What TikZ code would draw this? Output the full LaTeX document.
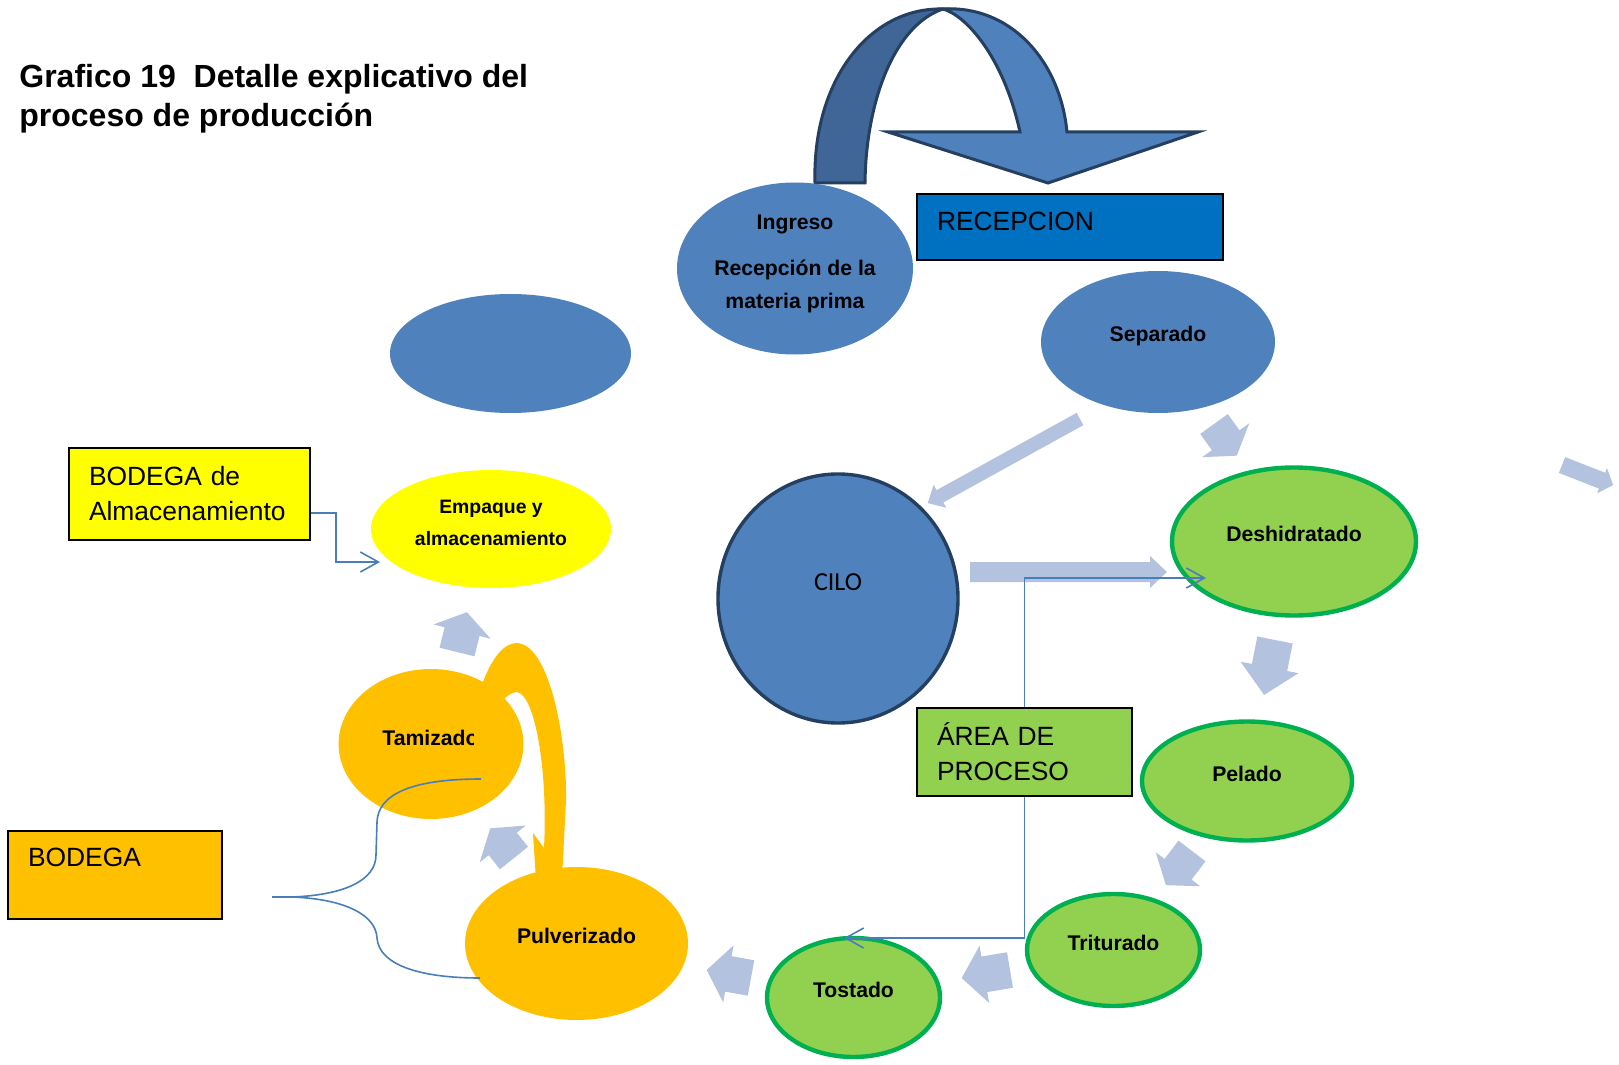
\documentclass[tikz,border=0pt]{standalone}
\usepackage{fontspec}
\setmainfont{Liberation Sans}
\newfontfamily\cilofont{Carlito}
\usepackage{tikz}
\usetikzlibrary{arrows.meta}
\usetikzlibrary{positioning}
\usetikzlibrary{shapes.geometric}

\definecolor{shapeblue}{HTML}{4F81BD}
\definecolor{backblue}{HTML}{3F6696}
\definecolor{edgeblue}{HTML}{243F60}
\definecolor{recblue}{HTML}{0070C0}
\definecolor{leafgreen}{HTML}{92D050}
\definecolor{rimgreen}{HTML}{00B050}
\definecolor{amber}{HTML}{FFC000}
\definecolor{lemon}{HTML}{FFFF00}
\definecolor{flowgrey}{HTML}{B3C2DE}
\definecolor{linkblue}{HTML}{4A7EBB}

% block arrow: tail x, tail y, angle, length, shaft half, head half, head length
\newcommand{\flowarrow}[7]{%
  \fill[flowgrey,shift={(#1,#2)},rotate=#3] (0,-#5) -- ({#4-#7},-#5) -- ({#4-#7},-#6) -- (#4,0)
    -- ({#4-#7},#6) -- ({#4-#7},#5) -- (0,#5) -- cycle;}

\begin{document}
\begin{tikzpicture}[x=0.5pt,y=-0.5pt,
    stage/.style={ellipse,inner sep=0pt,text height=8pt,text depth=8pt,font=\bfseries\fontsize{10.6}{12}\selectfont},
    bluestage/.style={stage,fill=shapeblue},
    greenstage/.style={stage,fill=leafgreen,draw=rimgreen,line width=2.2pt},
    amberstage/.style={stage,fill=amber},
    areabox/.style={draw=black,line width=0.6pt,inner xsep=10pt,inner ysep=0pt,align=left,font=\fontsize{13.2}{17.5}\selectfont},
    link/.style={draw=linkblue,line width=0.8pt},
    linkarrow/.style={link,-{Straight Barb[length=9pt,width=10pt]}}]
  \useasboundingbox (0,0) rectangle (1619,1065);

  % title
  \node[anchor=base west,align=left,inner sep=0pt,font=\bfseries\fontsize{16}{20}\selectfont] (title) at (19,127)
    {Grafico 19\ \ Detalle explicativo del\\proceso de producción};

  % u-turn arrow over the reception
  \filldraw[fill=backblue,draw=edgeblue,line width=1.5pt] (815,183) .. controls (812,80) and (870,7) .. (943,9)
    .. controls (895,25) and (866,100) .. (865,183) -- cycle;
  \filldraw[fill=shapeblue,draw=edgeblue,line width=1.5pt] (943,9) .. controls (1010,5) and (1060,60) .. (1067,132)
    -- (1198,132) -- (1048,183) -- (888,132) -- (1020,132) .. controls (1003,55) and (965,15) .. (943,9) -- cycle;

  % stages
  \node[bluestage,minimum width=118pt,minimum height=86pt] (ingreso) at (795,268.5) {};
  \node[anchor=base,align=center,inner sep=0pt,font=\bfseries\fontsize{10.6}{16.5}\selectfont] (ingresotext) at (795,308)
    {Ingreso\\[6.5pt]Recepción de la\\materia prima};
  \node[bluestage,minimum width=117pt,minimum height=71pt] (separado) at (1158,342) {Separado};
  \node[bluestage,minimum width=120.5pt,minimum height=59.5pt] (spare) at (510.5,353.5) {};
  \node[stage,fill=lemon,minimum width=120pt,minimum height=59pt] (empaque) at (491,529) {};
  \node[anchor=base,align=center,inner sep=0pt,font=\bfseries\fontsize{9.7}{16}\selectfont] (empaquetext) at (491,545)
    {Empaque y\\almacenamiento};
  \node[bluestage,draw=edgeblue,line width=1.7pt,minimum width=120pt,minimum height=124.5pt,
    font=\cilofont\fontsize{13}{15}\selectfont,text height=4pt,text depth=12.5pt] (cilo) at (838,598.5) {CILO};
  \node[greenstage,minimum width=122pt,minimum height=74pt] (deshidratado) at (1294,541.5) {Deshidratado};
  \node[greenstage,minimum width=105pt,minimum height=59.5pt] (pelado) at (1247,781) {Pelado};
  \node[greenstage,minimum width=86.5pt,minimum height=56pt] (triturado) at (1113.5,950) {Triturado};
  \node[greenstage,minimum width=86.5pt,minimum height=59.5pt] (tostado) at (853.5,997.5) {Tostado};
  \node[amberstage,minimum width=111.5pt,minimum height=76.5pt] (pulverizado) at (576.5,943.5) {Pulverizado};
  \node[amberstage,minimum width=92.4pt,minimum height=75pt] (tamizado) at (431,744) {};
  \begin{scope}
    \clip (330,700) rectangle (473,790);
    \node[anchor=base west,inner sep=0pt,font=\bfseries\fontsize{10.6}{12}\selectfont] (tamizadotext) at (382,745) {Tamizado};
  \end{scope}

  % orange return arrow
  \fill[amber] (480,690) .. controls (492,655) and (505,643) .. (517,643) .. controls (550,645) and (567,740) .. (566,800)
    -- (562,880) -- (536,880) -- (533,833) -- (544,848) .. controls (548,770) and (535,695) .. (517,692)
    .. controls (512,692) and (507,696) .. (503,700) -- cycle;

  % flow arrows
  \flowarrow{1080}{419}{-151.1}{174}{7}{13}{14}
  \flowarrow{970}{572}{0}{197}{10}{16}{17}
  \flowarrow{1214}{424}{-54.3}{39}{17}{29}{19}
  \flowarrow{1275}{640}{-101.3}{56}{18}{29.5}{28}
  \flowarrow{1192}{851}{-127.4}{43}{17}{28}{20}
  \flowarrow{1010}{970}{-170.5}{49}{18}{29}{23}
  \flowarrow{751}{978}{169.7}{45}{18}{29}{22}
  \flowarrow{514}{858}{128.7}{38}{18}{29.5}{20}
  \flowarrow{457}{652}{76}{41}{18}{29.5}{20}
  \flowarrow{1562}{465}{-21.4}{55}{8.5}{13.5}{12}

  % area boxes
  \node[areabox,fill=recblue,minimum width=153pt,minimum height=33pt,text width=133pt,
    text height=10pt,text depth=6pt] (recepcion) at (1070,227) {RECEPCION};
  \node[areabox,fill=lemon,minimum width=120.5pt,minimum height=46pt,text width=100.5pt] (bodalm) at (189.5,494)
    {BODEGA de\\Almacenamiento};
  \node[areabox,fill=leafgreen,minimum width=107.5pt,minimum height=44pt,text width=87.5pt] (area) at (1024.5,752)
    {ÁREA DE\\PROCESO};
  \node[areabox,fill=amber,minimum width=107pt,minimum height=44pt,text width=87pt,
    text height=10pt,text depth=19pt] (bodega) at (115,875) {BODEGA};

  % thin connectors
  \coordinate (empin) at (380,562);
  \coordinate (deshin) at (1206,578);
  \coordinate (tostin) at (844,938);
  \coordinate (bracetip) at (272,897);
  \coordinate (tamizin) at (481,779);
  \coordinate (pulvin) at (480,978);
  \draw[linkarrow] ([yshift=-9.5pt]bodalm.east) -| ([xshift=-22pt]empin) -- (empin);
  \draw[linkarrow] (area.north) |- (deshin);
  \draw[linkarrow] (area.south) |- (tostin);
  \draw[link] (bracetip) -- (292,897) .. controls (345,895) and (376,880) .. (376,855) -- (377,822)
    .. controls (378,795) and (410,779) .. (tamizin);
  \draw[link] (292,897) .. controls (345,899) and (376,915) .. (377,938)
    .. controls (379,965) and (420,978) .. (pulvin);
\end{tikzpicture}
\end{document}
